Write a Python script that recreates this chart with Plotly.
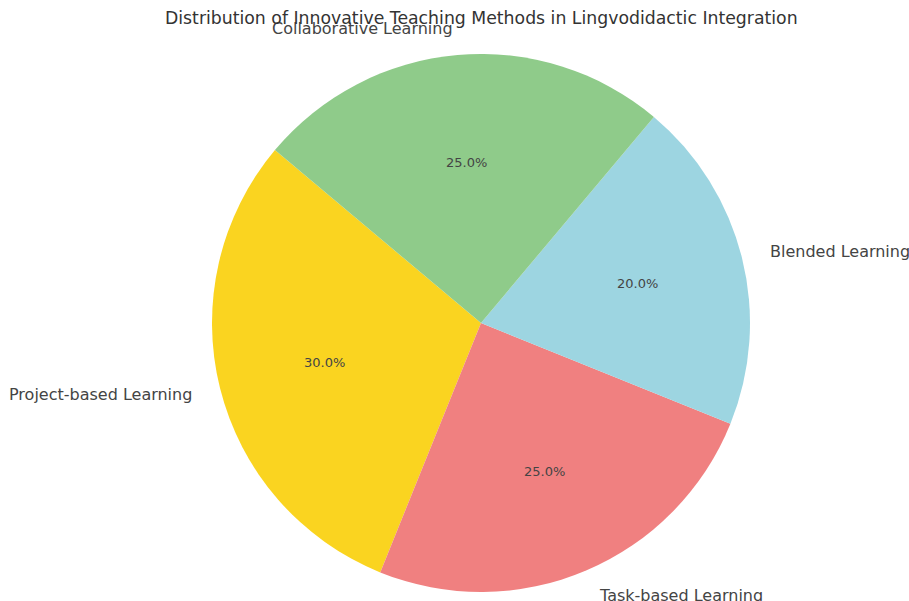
import math
import plotly.graph_objects as go

labels = ["Project-based Learning", "Task-based Learning", "Blended Learning", "Collaborative Learning"]
values = [30, 25, 20, 25]
colors = ["#FAD420", "#F08080", "#9DD5E1", "#8FCB8A"]
title = "Distribution of Innovative Teaching Methods in Lingvodidactic Integration"

W, H = 909, 601
cx, cy, R = 481, 323, 269
start_angle = 140
total = sum(values)

fig = go.Figure()
fig.add_trace(go.Pie(
    labels=labels, values=values, sort=False, direction="counterclockwise",
    rotation=90 - start_angle - 360 * values[0] / total,
    marker=dict(colors=colors, line=dict(width=0)),
    textinfo="none", hoverinfo="label+percent", showlegend=False,
    domain=dict(x=[(cx - R) / W, (cx + R) / W], y=[(H - cy - R) / H, (H - cy + R) / H]),
))

ann = []
cum = 0
for lab, v in zip(labels, values):
    mid = math.radians(start_angle + 360 * (cum + v / 2) / total)
    cum += v
    lx = cx + 1.1 * R * math.cos(mid)
    ly = cy - 1.1 * R * math.sin(mid)
    ann.append(dict(x=lx / W, y=1 - ly / H, xref="paper", yref="paper", text=lab,
                    showarrow=False, xanchor="left" if math.cos(mid) > 0 else "right",
                    yanchor="middle", font=dict(family="DejaVu Sans", size=16, color="#444444")))
    px = cx + 0.6 * R * math.cos(mid)
    py = cy - 0.6 * R * math.sin(mid)
    ann.append(dict(x=px / W, y=1 - py / H, xref="paper", yref="paper",
                    text=f"{100 * v / total:.1f}%", showarrow=False,
                    xanchor="center", yanchor="middle",
                    font=dict(family="DejaVu Sans", size=13, color="#444444")))

ann.append(dict(x=481 / W, y=1 - 18 / H, xref="paper", yref="paper", text=title,
                showarrow=False, xanchor="center", yanchor="middle",
                font=dict(family="DejaVu Sans", size=17.3, color="#333333")))

fig.update_layout(width=W, height=H, margin=dict(l=0, r=0, t=0, b=0),
                  paper_bgcolor="white", plot_bgcolor="white", annotations=ann)
fig.write_html(
    "out.html",
    config={"displayModeBar": False},
    post_script="document.body.style.margin='0';document.body.style.overflow='hidden';"
                "document.documentElement.style.overflow='hidden';",
)
